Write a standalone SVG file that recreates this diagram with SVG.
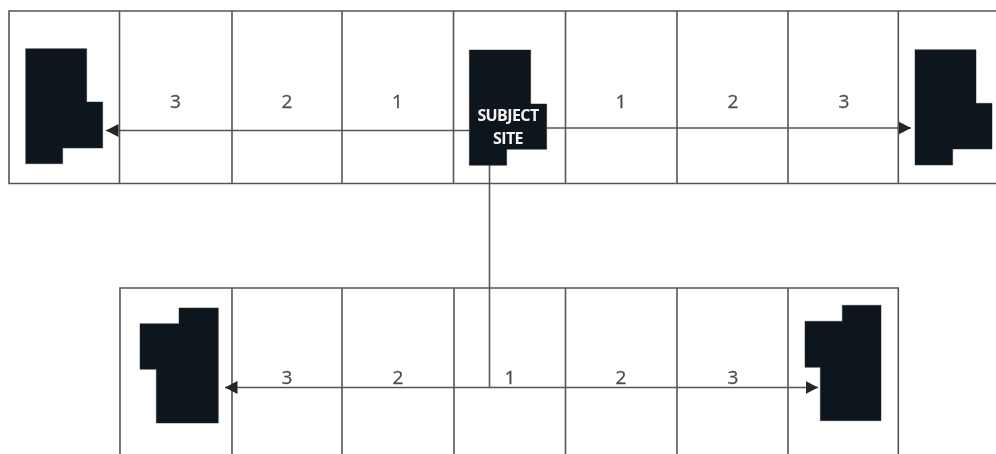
<svg xmlns="http://www.w3.org/2000/svg" width="996" height="454" viewBox="0 0 996 454">
<defs>
<style>
.grid{fill:none;stroke:#555;stroke-width:1.6}
.conn{fill:none;stroke:#555;stroke-width:1.6}
.bld{fill:#11131b;stroke:#2a2c33;stroke-width:.5}
.num{font-family:"Open Sans","Liberation Sans",sans-serif;font-size:19px;fill:#4c4c58;stroke:#4c4c58;stroke-width:.3;text-anchor:middle}
.site{font-family:"Open Sans","Liberation Sans",sans-serif;font-size:16px;font-weight:700;fill:#f4f4f4;text-anchor:middle;letter-spacing:-.6px}
</style>
<filter id="soft" x="-2%" y="-2%" width="104%" height="104%"><feGaussianBlur stdDeviation="0.5"/></filter>
<marker id="arrow" markerUnits="userSpaceOnUse" markerWidth="14" markerHeight="14" refX="12.500" refY="7" orient="auto-start-reverse"><path d="M0 0.5L12.500 7L0 13.5Z" fill="#23252b"/></marker>
</defs>
<rect width="996" height="454" fill="#fff"/>
<g filter="url(#soft)">
<g id="grid-top" class="grid">
<path d="M996 11H9V183.5H996"/>
<path d="M119.5 11V183.5M232 11V183.5M342 11V183.5M453.5 11V183.5M565.5 11V183.5M677 11V183.5M788 11V183.5M898.3 11V183.5"/>
</g>
<g id="grid-bottom" class="grid">
<path d="M120 454V288H898.3V454"/>
<path d="M232 288V454M342 288V454M454 288V454M565.5 288V454M677 288V454M788 288V454"/>
</g>
<g id="connectors">
<path class="conn" d="M469 130.5H106" marker-end="url(#arrow)"/>
<path class="conn" d="M547 128H911" marker-end="url(#arrow)"/>
<path class="conn" d="M489.5 165V387.5"/>
<path class="conn" d="M489.5 387.5H225" marker-end="url(#arrow)"/>
<path class="conn" d="M489.5 387.5H818" marker-end="url(#arrow)"/>
</g>
<g id="building-top-left"><path class="bld" d="M25.7 48.7H86.7V102H102.7V148H62.7V163.7H25.7Z"/></g>
<g id="subject-site"><path class="bld" d="M469.3 50H530.7V104H546.7V149.3H506.7V165.3H469.3Z"/>
<text class="site" x="508" y="121">SUBJECT</text><text class="site" x="508" y="144">SITE</text></g>
<g id="building-top-right"><path class="bld" d="M915 49.7H976V103.3H992V149H952.7V165H915Z"/></g>
<g id="building-bottom-left"><path class="bld" d="M140 323.7H179V308H218.3V423H156.3V369.3H140Z"/></g>
<g id="building-bottom-right"><path class="bld" d="M805 321.3H842.3V305.3H881V420.7H820.3V367.3H805Z"/></g>
<g id="labels">
<text class="num" x="175.500" y="108">3</text><text class="num" x="287" y="108">2</text><text class="num" x="397.500" y="108">1</text>
<text class="num" x="621" y="108">1</text><text class="num" x="733" y="108">2</text><text class="num" x="844" y="108">3</text>
<text class="num" x="287" y="384">3</text><text class="num" x="398" y="384">2</text><text class="num" x="510" y="384">1</text>
<text class="num" x="621" y="384">2</text><text class="num" x="733" y="384">3</text>
</g>
</g>
</svg>
